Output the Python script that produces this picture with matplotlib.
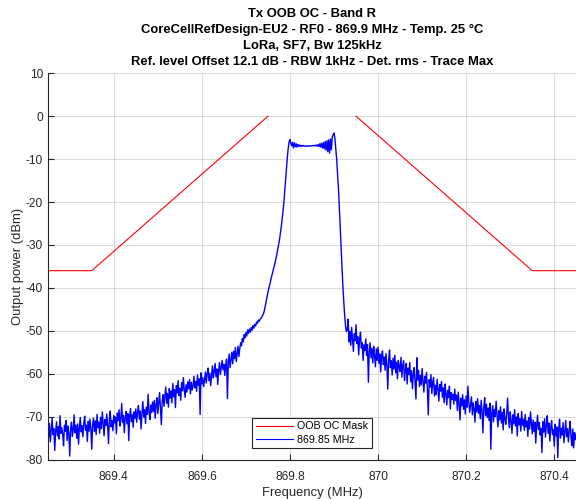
import numpy as np
import matplotlib
matplotlib.use("Agg")
import matplotlib.pyplot as plt

plt.rcParams['font.family'] = ['Liberation Sans', 'DejaVu Sans']
plt.rcParams['axes.unicode_minus'] = False

# ---------------- data ----------------
F_START = 869.25   # MHz, first sweep point
F_STOP = 870.45    # MHz, last sweep point

# measured trace (dBm), equally spaced sweep points from F_START to F_STOP
power_dbm = [
    # left noise floor
    -72.1, -74.8, -71.6, -75.9, -73.0, -70.4, -74.2, -72.8, -77.9, -73.6, -71.2, -74.5, -72.3, -75.2, -69.8, -73.9, -72.6, -74.1, -76.8, -72.0,
    -73.4, -70.9, -75.6, -72.2, -74.0, -79.2, -72.7, -71.3, -74.6, -73.1, -69.6, -73.8, -72.0, -75.1, -71.7, -76.4, -72.5, -70.2, -73.6, -72.1,
    -74.7, -71.5, -69.9, -73.2, -72.0, -75.8, -71.1, -73.4, -70.6, -72.9, -77.6, -71.8, -70.4, -73.5, -71.0, -74.2, -69.5, -72.6, -71.3, -73.9,
    -70.2, -72.8, -68.9, -71.6, -74.5, -70.7, -72.1, -69.4, -71.9, -76.3, -70.5, -68.7, -72.4, -70.9, -73.3, -69.8, -71.5, -70.1, -74.0, -69.2,
    -71.0, -68.4, -72.2, -70.6, -66.9, -71.4, -69.7, -73.8, -70.2, -68.8, -71.7, -69.3, -75.6, -70.0, -68.1, -71.2, -69.6, -72.5, -68.9, -70.4,
    -68.2, -71.3, -69.0, -67.4, -70.6, -68.7, -72.9, -69.2, -66.5, -70.1, -68.4, -71.6, -67.8, -69.5, -64.8, -68.9, -70.7, -67.3, -69.1, -66.6,
    -68.8, -66.2, -70.4, -67.1, -65.6, -69.3, -66.8, -64.4, -68.0, -71.9, -66.3, -64.9, -67.6, -65.2, -63.1, -66.9, -64.6, -67.8, -63.5, -65.7,
    -64.0, -66.8, -62.3, -65.4, -63.7, -67.9, -62.8, -64.5, -61.6, -65.1, -63.4, -66.2, -62.1, -64.0, -60.9, -63.8, -65.5, -62.6, -64.3, -61.9,
    -63.5, -61.4, -64.7, -62.0, -63.8, -62.9, -60.6, -63.3, -61.8, -64.1, -60.3, -62.7, -61.2, -69.5, -59.8, -62.4, -60.9, -63.0, -61.5, -59.6,
    -62.2, -60.1, -58.7, -61.6, -59.9, -62.8, -60.4, -58.2, -61.0, -59.5, -57.6, -60.7, -58.9, -62.5, -59.3, -57.4, -60.2, -58.6, -56.9, -59.1,
    -57.8, -60.4, -58.1, -56.6, -65.8, -57.3, -55.4, -58.6, -56.9, -55.0, -57.7, -54.8, -56.5, -53.9, -57.2, -55.3, -53.6, -56.0, -54.2, -52.8,
    # left skirt
    -53.5, -51.8, -52.6, -50.9, -51.7, -50.4, -51.2, -49.8, -50.6, -49.6,
    -50.3, -49.2, -49.9, -48.8, -49.4, -48.5, -48.9, -48.0, -48.3, -47.5,
    -47.8, -47.4, -47.1, -46.8, -46.4, -46.0, -45.2, -44.2, -43.2, -42.1,
    -41.0, -40.1, -39.2, -38.3, -37.5, -36.7, -35.9, -35.1, -34.2, -33.3,
    -32.3, -31.2, -30.1, -28.9, -27.5, -26.0, -24.3, -22.4, -20.3, -17.8,
    -15.0, -12.2, -9.6, -7.5, -6.0, -5.4,
    # in-band plateau
    -6.3, -6.9, -6.1, -7.4, -6.2, -7.1, -6.4, -7.2, -6.6, -7.0, -6.7, -7.1, -6.8, -7.0, -6.8, -7.0,
    -6.9, -7.0, -6.9, -7.0, -6.9, -7.0, -6.9, -6.9, -6.9, -6.8, -6.9, -6.8, -6.9, -6.7, -7.0, -6.6,
    -7.1, -6.4, -7.2, -6.3, -7.4, -6.1, -7.6, -5.9, -7.9, -5.7, -8.3, -5.5, -8.6, -5.3, -7.8, -4.9,
    # right skirt
    -4.3, -3.9, -5.2, -7.6, -10.0, -13.2, -16.8, -21.0, -25.6, -30.4, -35.0, -39.3, -43.0, -46.2, -48.8, -50.2,
    # right noise floor
    -49.8, -47.3, -52.6, -50.1, -53.4, -49.2, -51.9, -54.8, -50.7, -52.3, -48.6, -53.0, -51.4, -55.6, -52.1, -50.3, -54.0, -52.8, -56.9, -53.3,
    -54.6, -51.9, -55.8, -53.2, -62.0, -54.9, -52.8, -56.3, -54.1, -57.5, -53.6, -55.7, -58.4, -54.2, -56.9, -53.8, -57.6, -55.4, -59.6, -56.0,
    -54.7, -57.9, -56.1, -59.2, -55.3, -58.0, -63.6, -56.8, -54.5, -58.6, -57.0, -60.3, -56.4, -58.9, -55.7, -59.8, -57.3, -61.2, -56.9, -58.4,
    -59.5, -56.2, -60.8, -58.1, -57.0, -61.6, -59.0, -57.6, -62.4, -58.7, -60.2, -57.4, -61.9, -59.3, -63.5, -60.0, -58.6, -62.1, -65.9, -56.3,
    -61.5, -59.2, -63.0, -60.4, -62.6, -58.8, -61.9, -64.3, -60.6, -62.2, -59.7, -63.8, -69.6, -61.4, -63.1, -60.2, -64.6, -62.0, -60.9, -65.2,
    -62.7, -64.9, -61.3, -63.6, -66.4, -62.5, -64.1, -61.8, -65.5, -63.3, -66.8, -62.4, -64.7, -67.3, -63.9, -65.6, -62.9, -68.2, -64.4, -66.0,
    -64.8, -67.1, -63.6, -66.2, -65.0, -68.6, -64.3, -66.9, -70.8, -65.7, -67.5, -64.9, -68.3, -66.1, -69.4, -65.2, -67.8, -62.9, -66.6, -69.0,
    -67.3, -65.4, -69.6, -66.8, -68.1, -71.3, -66.5, -68.9, -65.8, -69.2, -67.4, -70.5, -66.2, -68.7, -73.8, -67.9, -65.6, -69.8, -67.1, -70.2,
    -68.0, -70.9, -66.9, -77.6, -69.4, -67.5, -71.2, -68.3, -70.0, -66.4, -69.7, -72.4, -68.6, -70.8, -67.7, -71.5, -69.0, -73.1, -68.2, -70.6,
    -71.8, -69.1, -65.7, -70.4, -72.6, -68.9, -71.0, -73.9, -69.6, -71.7, -68.4, -72.2, -70.1, -74.5, -69.3, -71.9, -70.5, -73.4, -68.8, -72.0,
    -70.6, -73.2, -69.5, -72.4, -71.0, -74.6, -70.2, -72.9, -68.9, -71.6, -74.0, -70.8, -73.5, -71.3, -76.2, -72.1, -69.7, -73.0, -71.4, -74.3,
    -72.7, -78.4, -71.2, -73.6, -70.5, -74.8, -72.0, -69.8, -73.9, -71.5, -75.7, -72.6, -70.9, -74.2, -73.0, -76.9, -71.8, -74.5, -72.4, -79.6,
    -73.1, -70.6, -75.0, -72.7, -74.3, -71.4, -76.1, -73.5, -70.9, -74.7, -72.8, -75.9, -73.2, -71.1, -74.9, -76.8, -72.9, -77.3, -73.7, -75.4, -74.2,
]

# OOB OC mask (MHz, dBm); NaN separates the two sides
mask_freq = [869.25, 869.35, 869.75, np.nan, 869.95, 870.35, 870.45]
mask_dbm = [-36, -36, 0, np.nan, 0, -36, -36]

x_ticks = [869.4, 869.6, 869.8, 870.0, 870.2, 870.4]
x_ticklabels = ["869.4", "869.6", "869.8", "870", "870.2", "870.4"]
y_ticks = [-80, -70, -60, -50, -40, -30, -20, -10, 0, 10]

title_lines = [
    "Tx OOB OC - Band R",
    "CoreCellRefDesign-EU2 - RF0 - 869.9 MHz - Temp. 25 \u00b0C",
    "LoRa, SF7, Bw 125kHz",
    "Ref. level Offset 12.1 dB - RBW 1kHz - Det. rms - Trace Max",
]
legend_labels = ["OOB OC Mask", "869.85 MHz"]

# ---------------- figure ----------------
W, H = 576, 499
fig = plt.figure(figsize=(W / 100, H / 100), dpi=100)
ax_l, ax_r, ax_t, ax_b = 47.7, 576.3, 73.3, 459.5
ax = fig.add_axes([ax_l / W, 1 - ax_b / H, (ax_r - ax_l) / W, (ax_b - ax_t) / H])

freq = np.linspace(F_START, F_STOP, len(power_dbm))
dark = '#262626'

l_mask, = ax.plot(mask_freq, mask_dbm, color='#ff0000', lw=0.8)
l_trace, = ax.plot(freq, power_dbm, color='#0000ff', lw=1.0)

ax.set_xlim(869.25, 870.45)
ax.set_ylim(-80, 10)
ax.set_xticks(x_ticks)
ax.set_xticklabels(x_ticklabels)
ax.set_yticks(y_ticks)
ax.grid(True, color='#dcdcdc', lw=0.8)
ax.set_axisbelow(True)

for s in ['top', 'right']:
    ax.spines[s].set_visible(False)
for s in ['left', 'bottom']:
    ax.spines[s].set_color(dark)
    ax.spines[s].set_linewidth(0.8)

ax.tick_params(direction='in', length=4, width=0.8, color=dark,
               labelcolor=dark, labelsize=8.6)
ax.tick_params(axis='x', pad=8)
ax.tick_params(axis='y', pad=3.5)

ax.set_xlabel("Frequency (MHz)", fontsize=9.4, color=dark, labelpad=3)
ax.set_ylabel("Output power (dBm)", fontsize=9.4, color=dark, labelpad=1)

leg = ax.legend([l_mask, l_trace], legend_labels, loc='lower center',
                bbox_to_anchor=(0.5, 0.029), fontsize=7.7, frameon=True,
                fancybox=False, edgecolor=dark, framealpha=1,
                handlelength=3.5, handletextpad=0.4, borderpad=0.35,
                labelspacing=0.3, borderaxespad=0)
leg.get_frame().set_linewidth(0.8)
for h in leg.get_lines():
    h.set_linewidth(0.8)

title_y = [14.4, 30.2, 46.0, 61.8]
for txt, yy in zip(title_lines, title_y):
    fig.text(312 / W, 1 - yy / H, txt, ha='center', va='center',
             fontsize=9.4, fontweight='bold', color='#000000')

fig.savefig("out.png", dpi=100)
